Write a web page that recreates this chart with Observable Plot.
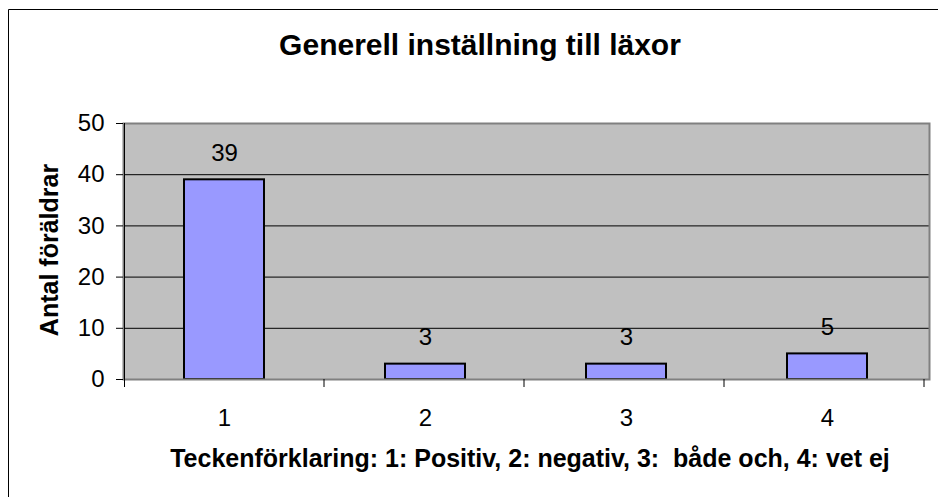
<!DOCTYPE html>
<html><head><meta charset="utf-8">
<script src="https://cdn.jsdelivr.net/npm/d3@7"></script>
<script src="https://cdn.jsdelivr.net/npm/@observablehq/plot@0.6"></script>
<style>
body{margin:0;background:#fff;}
svg{font-family:Arial,"Liberation Sans",sans-serif;}
</style></head>
<body><div id="chart"></div>
<script>
const categories = ["1","2","3","4"];
const values = [39, 3, 3, 5];
const yTicks = [0, 10, 20, 30, 40, 50];
const gridValues = [10, 20, 30, 40];
const title = "Generell inställning till läxor";
const yLabel = "Antal föräldrar";
const xLabel = "Teckenförklaring: 1: Positiv, 2: negativ, 3:  både och, 4: vet ej";

const data = categories.map((c, i) => ({cat: c, value: values[i]}));
const W = 938, H = 497, mL = 123, mR = 9, mT = 123, mB = 118;
const padInner = 0.6;

const chart = Plot.plot({
  width: W, height: H,
  marginLeft: mL, marginRight: mR, marginTop: mT, marginBottom: mB,
  style: {fontFamily: "Arial, 'Liberation Sans', sans-serif", background: "#fff", color: "#000"},
  x: {domain: categories, paddingInner: padInner, paddingOuter: padInner / 2, label: null},
  y: {domain: [0, 50], ticks: yTicks, label: null},
  marks: [
    Plot.frame({fill: "#C0C0C0", stroke: "none"}),
    Plot.ruleY(gridValues, {stroke: "#000", strokeWidth: 1}),
    Plot.barY(data, {x: "cat", y: "value", fill: "#9999FF", stroke: "#000", strokeWidth: 2}),
    Plot.text(data, {x: "cat", y: "value", text: d => String(d.value), dy: -26.5, fontSize: 24, fill: "#000"}),
    Plot.frame({stroke: "#808080", strokeWidth: 2, fill: "none"}),
    Plot.axisY({ticks: yTicks, tickSize: 7, tickPadding: 12, fontSize: 24, stroke: "#000", fill: "#000"}),
    Plot.axisX({tickSize: 0, tickPadding: 29, fontSize: 24, fill: "#000"})
  ]
});

const svg = d3.select(chart);
// left axis line and x boundary ticks drawn from scales
const xs = chart.scale("x"), ys = chart.scale("y");
const y0 = ys.apply(0), y50 = ys.apply(50);
const bw = xs.bandwidth, stp = bw / (1 - padInner);
const leftEdge = xs.apply(categories[0]) - (stp - bw) / 2;
svg.append("line")
  .attr("x1", leftEdge + 0.5).attr("x2", leftEdge + 0.5)
  .attr("y1", y50).attr("y2", y0 + 8).attr("stroke", "#000");
svg.append("g").selectAll("line").data(categories).join("line")
  .attr("x1", (d, i) => leftEdge + stp * (i + 1))
  .attr("x2", (d, i) => leftEdge + stp * (i + 1))
  .attr("y1", y0).attr("y2", y0 + 8).attr("stroke", "#000");
// outer border
svg.append("path").attr("d", `M8.5,${H}V9.5H${W}`).attr("fill", "none").attr("stroke", "#000");
// title
svg.append("text").attr("x", 480).attr("y", 55).attr("text-anchor", "middle")
  .attr("font-size", 30).attr("font-weight", "bold").attr("fill", "#000").text(title);
svg.append("text").attr("transform", "translate(58,250) rotate(-90)").attr("text-anchor", "middle")
  .attr("font-size", 25).attr("font-weight", "bold").attr("fill", "#000").text(yLabel);
svg.append("text").attr("x", 530).attr("y", 467).attr("text-anchor", "middle")
  .style("white-space", "pre")
  .attr("font-size", 25).attr("font-weight", "bold").attr("fill", "#000").text(xLabel);

document.getElementById("chart").appendChild(chart);
</script>
</body></html>
